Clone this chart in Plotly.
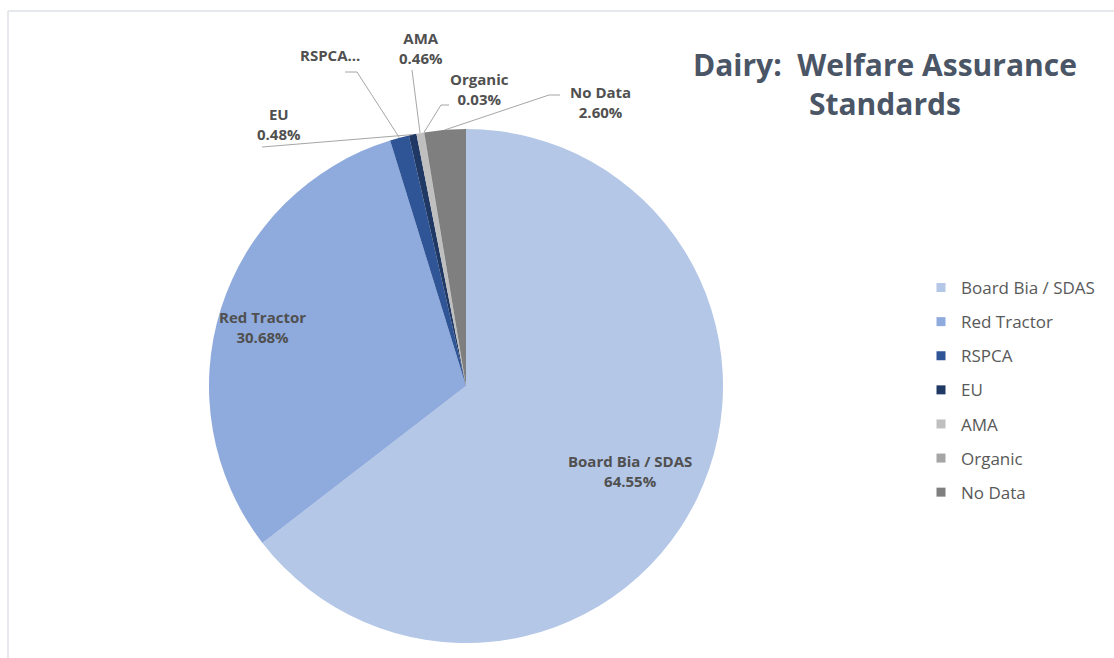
import math
import plotly.graph_objects as go

# ---- data ----
categories = ["Board Bia / SDAS", "Red Tractor", "RSPCA", "EU", "AMA", "Organic", "No Data"]
shares = [64.55, 30.68, 1.20, 0.48, 0.46, 0.03, 2.60]
colors = ["#B4C7E7", "#8FAADC", "#2F5597", "#1F3864", "#BFBFBF", "#A5A5A5", "#7F7F7F"]
label_text = {
    "Board Bia / SDAS": "Board Bia / SDAS<br>64.55%",
    "Red Tractor": "Red Tractor<br>30.68%",
    "RSPCA": "RSPCA...",
    "EU": "EU<br>0.48%",
    "AMA": "AMA<br>0.46%",
    "Organic": "Organic<br>0.03%",
    "No Data": "No Data<br>2.60%",
}
title_text = "Dairy:  Welfare Assurance<br>Standards"

# ---- layout constants (pixels) ----
W, H = 1114, 658
CX, CY, R = 466, 386, 257
FONT = "Open Sans"
LABEL_COLOR = "#505050"

def px(x):
    return x / W

def py(y):
    return 1 - y / H

fig = go.Figure()
fig.add_trace(go.Pie(
    labels=categories, values=shares,
    marker=dict(colors=colors, line=dict(width=0)),
    sort=False, direction="clockwise", rotation=0,
    textinfo="none", showlegend=False,
    domain=dict(x=[px(CX - R), px(CX + R)], y=[py(CY + R), py(CY - R)]),
    hovertemplate="%{label}: %{value:.2f}%<extra></extra>",
))

# legend entries (one per category, so that the gap between them can be set)
for cat, col in zip(categories, colors):
    fig.add_trace(go.Scatter(
        x=[None], y=[None], mode="markers", name=cat, legendgroup=cat,
        marker=dict(symbol="square", size=9, color=col),
        hoverinfo="skip",
    ))

# slice mid-angles from data
total = sum(shares)
cum = 0
mid_deg = {}
for cat, v in zip(categories, shares):
    mid_deg[cat] = (cum + v / 2) / total * 360
    cum += v

def edge(cat):
    a = math.radians(mid_deg[cat])
    return CX + R * math.sin(a), CY - R * math.cos(a)

# label positions (pixels) and leader elbows
label_pos = {
    "Board Bia / SDAS": (630, 471),
    "Red Tractor": (262, 327),
    "RSPCA": (330, 55),
    "EU": (279, 124),
    "AMA": (421, 48),
    "Organic": (479, 89),
    "No Data": (600, 102),
}
leader_elbows = {
    "RSPCA": [(345, 72), (357, 72)],
    "EU": [(262, 147)],
    "AMA": [(412, 70)],
    "Organic": [(449, 105), (441, 105)],
    "No Data": [(560, 95), (549, 95)],
}

annotations = []
for cat, (x, y) in label_pos.items():
    annotations.append(dict(
        x=px(x), y=py(y), xref="paper", yref="paper", text=label_text[cat],
        showarrow=False, xanchor="center", yanchor="middle",
        font=dict(family=FONT, size=15, color=LABEL_COLOR, weight="bold"),
    ))

shapes = []
for cat, pts in leader_elbows.items():
    ex, ey = edge(cat)
    allpts = pts + [(ex, ey)]
    path = "M " + " L ".join(f"{px(a)},{py(b)}" for a, b in allpts)
    shapes.append(dict(type="path", xref="paper", yref="paper", path=path,
                       line=dict(color="#A6A6A6", width=1)))

# chart frame (top and left edges visible in the reference)
shapes.append(dict(type="line", xref="paper", yref="paper",
                   x0=px(8), x1=1, y0=py(11), y1=py(11),
                   line=dict(color="#DDE1E6", width=1.5)))
shapes.append(dict(type="line", xref="paper", yref="paper",
                   x0=px(8), x1=px(8), y0=py(11), y1=0,
                   line=dict(color="#DDE1E6", width=1.5)))

annotations.append(dict(
    x=px(885), y=py(84), xref="paper", yref="paper", text=title_text,
    showarrow=False, xanchor="center", yanchor="middle",
    font=dict(family=FONT, size=30, color="#4A5566", weight="bold"),
))

fig.update_layout(
    width=W, height=H,
    margin=dict(l=0, r=0, t=0, b=0),
    paper_bgcolor="white", plot_bgcolor="white",
    xaxis=dict(visible=False), yaxis=dict(visible=False),
    legend=dict(x=px(921), y=py(270), xanchor="left", yanchor="top",
                font=dict(family=FONT, size=17, color="#595959"),
                tracegroupgap=9, itemclick=False, itemdoubleclick=False,
                bgcolor="rgba(0,0,0,0)"),
    annotations=annotations, shapes=shapes,
    font=dict(family=FONT),
)

fig.write_html("out.html", config={"displayModeBar": False},
               post_script="document.body.style.margin='0';")
